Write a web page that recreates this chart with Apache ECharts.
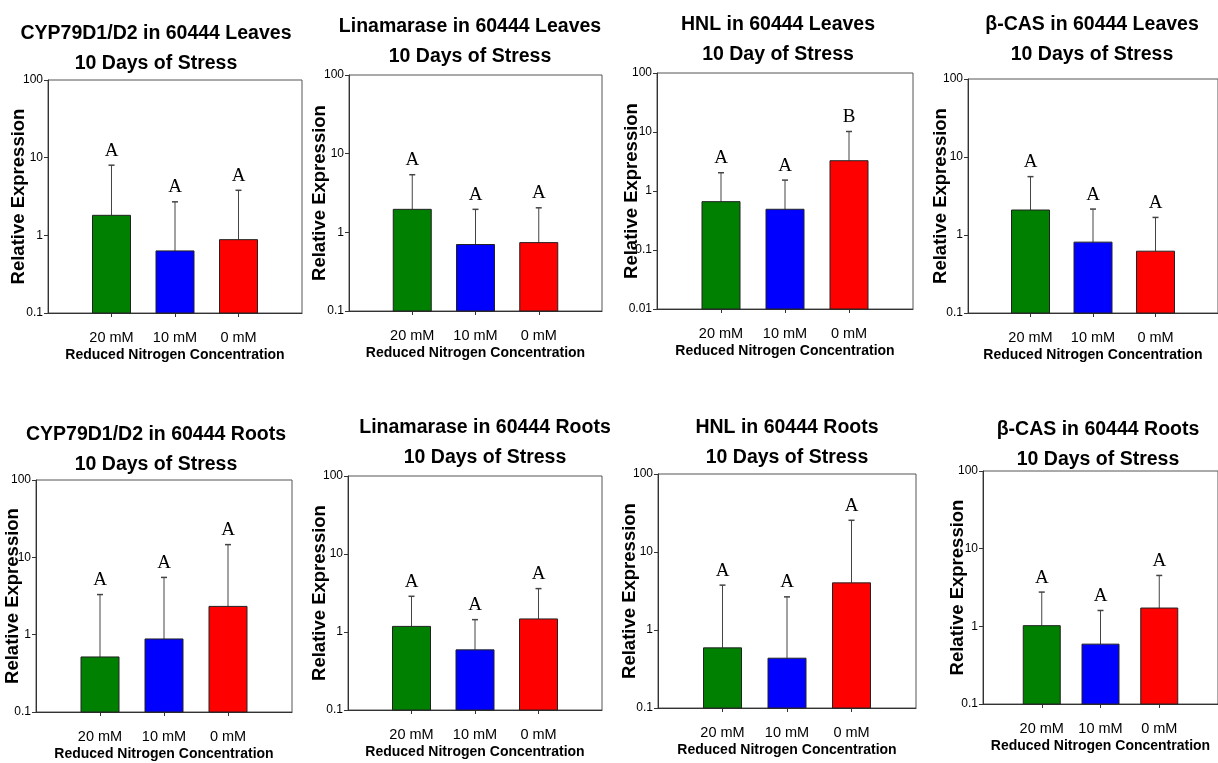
<!DOCTYPE html>
<html><head><meta charset="utf-8">
<script src="https://cdn.jsdelivr.net/npm/echarts@6/dist/echarts.min.js"></script>
<style>html,body{margin:0;padding:0;background:#fff}#c{width:1218px;height:763px}</style>
</head><body><div id="c"></div>
<script>
// ---- data ----
const categories = ['20 mM', '10 mM', '0 mM'];
const barColors = ['#008000', '#0000ff', '#ff0000'];

const titles = [
  'CYP79D1/D2 in 60444 Leaves\n10 Days of Stress',
  'Linamarase in 60444 Leaves\n10 Days of Stress',
  'HNL in 60444 Leaves\n10 Day of Stress',
  'β-CAS in 60444 Leaves\n10 Days of Stress',
  'CYP79D1/D2 in 60444 Roots\n10 Days of Stress',
  'Linamarase in 60444 Roots\n10 Days of Stress',
  'HNL in 60444 Roots\n10 Days of Stress',
  'β-CAS in 60444 Roots\n10 Days of Stress'
];

const cypLeavesMean = [1.81, 0.63, 0.88];
const cypLeavesUpper = [8.0, 2.7, 3.8];
const cypLeavesLetters = ['A', 'A', 'A'];

const linLeavesMean = [1.96, 0.70, 0.74];
const linLeavesUpper = [5.4, 1.96, 2.05];
const linLeavesLetters = ['A', 'A', 'A'];

const hnlLeavesMean = [0.66, 0.49, 3.26];
const hnlLeavesUpper = [2.04, 1.53, 10.2];
const hnlLeavesLetters = ['A', 'A', 'B'];

const casLeavesMean = [2.09, 0.81, 0.62];
const casLeavesUpper = [5.6, 2.15, 1.68];
const casLeavesLetters = ['A', 'A', 'A'];

const cypRootsMean = [0.515, 0.88, 2.32];
const cypRootsUpper = [3.3, 5.5, 14.6];
const cypRootsLetters = ['A', 'A', 'A'];

const linRootsMean = [1.18, 0.59, 1.47];
const linRootsUpper = [2.87, 1.44, 3.6];
const linRootsLetters = ['A', 'A', 'A'];

const hnlRootsMean = [0.59, 0.435, 4.02];
const hnlRootsUpper = [3.76, 2.66, 25.5];
const hnlRootsLetters = ['A', 'A', 'A'];

const casRootsMean = [1.02, 0.59, 1.72];
const casRootsUpper = [2.76, 1.6, 4.52];
const casRootsLetters = ['A', 'A', 'A'];

const yMins = [0.1, 0.1, 0.01, 0.1, 0.1, 0.1, 0.1, 0.1];
const yMax = 100;
const xAxisTitle = 'Reduced Nitrogen Concentration';
const yAxisTitle = 'Relative Expression';

const panelData = [
  [cypLeavesMean, cypLeavesUpper, cypLeavesLetters],
  [linLeavesMean, linLeavesUpper, linLeavesLetters],
  [hnlLeavesMean, hnlLeavesUpper, hnlLeavesLetters],
  [casLeavesMean, casLeavesUpper, casLeavesLetters],
  [cypRootsMean, cypRootsUpper, cypRootsLetters],
  [linRootsMean, linRootsUpper, linRootsLetters],
  [hnlRootsMean, hnlRootsUpper, hnlRootsLetters],
  [casRootsMean, casRootsUpper, casRootsLetters]
];

// ---- layout (pixels) ----
const layout = [
  {l: 48,  t: 80,  w: 254, h: 233, tx: 156,  ty: 19,  yg: 20, bw: 38},
  {l: 349, t: 75,  w: 253, h: 236, tx: 470,  ty: 12,  yg: 20, bw: 38},
  {l: 657, t: 73,  w: 256, h: 236, tx: 778,  ty: 10,  yg: 16, bw: 38},
  {l: 968, t: 79,  w: 258, h: 234, tx: 1092, ty: 10,  yg: 18, bw: 38},
  {l: 36,  t: 480, w: 256, h: 232, tx: 156,  ty: 420, yg: 14, bw: 38},
  {l: 348, t: 476, w: 254, h: 234, tx: 485,  ty: 413, yg: 19, bw: 38},
  {l: 658, t: 474, w: 258, h: 234, tx: 787,  ty: 413, yg: 19, bw: 38},
  {l: 983, t: 471, w: 242, h: 233, tx: 1098, ty: 415, yg: 16, bw: 37}
];

const SANS = '"Liberation Sans", Arial, sans-serif';
const SERIF = '"Liberation Serif", "Times New Roman", serif';

function makeRender(letters, yMin, bw) {
  return function (params, api) {
    const x = api.value(0), v = api.value(1), e = api.value(2);
    const base = api.coord([x, yMin]);
    const top = api.coord([x, v]);
    const et = api.coord([x, e]);
    const i = params.dataIndex;
    return {
      type: 'group',
      children: [
        {type: 'line', shape: {x1: top[0], y1: top[1], x2: et[0], y2: et[1]},
         style: {stroke: '#444', lineWidth: 1}},
        {type: 'line', shape: {x1: et[0] - 3, y1: et[1], x2: et[0] + 3, y2: et[1]},
         style: {stroke: '#444', lineWidth: 1.5}},
        {type: 'rect', shape: {x: base[0] - bw / 2, y: top[1], width: bw, height: base[1] - top[1]},
         style: {fill: barColors[i], stroke: '#222', lineWidth: 1}},
        {type: 'text', x: et[0], y: et[1] - 5,
         style: {text: letters[i], fill: '#000', fontSize: 19, fontFamily: SERIF,
                 align: 'center', verticalAlign: 'bottom'}}
      ]
    };
  };
}

const option = {
  backgroundColor: '#fff',
  animation: false,
  title: [], grid: [], xAxis: [], yAxis: [], series: []
};

layout.forEach((p, k) => {
  option.title.push({
    text: titles[k], left: p.tx, top: p.ty, textAlign: 'center', padding: 0,
    textStyle: {fontSize: 19.5, fontWeight: 'bold', fontFamily: SANS, color: '#000', lineHeight: 30}
  });
  option.grid.push({left: p.l, top: p.t, width: p.w, height: p.h,
    show: true, borderColor: '#555', borderWidth: 1, containLabel: false});
  option.xAxis.push({
    type: 'value', gridIndex: k, min: 0, max: 4, interval: 1,
    name: xAxisTitle, nameLocation: 'middle', nameGap: 35, nameMoveOverlap: false,
    nameTextStyle: {fontSize: 14, fontWeight: 'bold', fontFamily: SANS, color: '#000'},
    axisLine: {show: true, lineStyle: {color: '#333', width: 1}},
    axisTick: {show: true, length: 4, customValues: [1, 2, 3], lineStyle: {color: '#333'}},
    axisLabel: {show: true, customValues: [1, 2, 3], margin: 17,
      formatter: v => categories[Math.round(v) - 1] || '',
      fontSize: 14.5, fontFamily: SANS, color: '#000'},
    splitLine: {show: false}
  });
  option.yAxis.push({
    type: 'log', logBase: 10, gridIndex: k, min: yMins[k], max: yMax,
    name: yAxisTitle, nameLocation: 'middle', nameGap: p.yg, nameMoveOverlap: false,
    nameTextStyle: {fontSize: 18.5, fontWeight: 'bold', fontFamily: SANS, color: '#000'},
    axisLine: {show: true, lineStyle: {color: '#333', width: 1}},
    axisTick: {show: true, length: 4, lineStyle: {color: '#333'}},
    minorTick: {show: false},
    axisLabel: {fontSize: 12, fontFamily: SANS, color: '#000', margin: 5},
    splitLine: {show: false}
  });
  const [mean, upper, letters] = panelData[k];
  option.series.push({
    type: 'custom', xAxisIndex: k, yAxisIndex: k,
    renderItem: makeRender(letters, yMins[k], p.bw),
    encode: {x: 0, y: 1},
    data: categories.map((c, i) => [i + 1, mean[i], upper[i]]),
    clip: false
  });
});

const chart = echarts.init(document.getElementById('c'), null, {renderer: 'canvas'});
chart.setOption(option);
</script>
</body></html>
